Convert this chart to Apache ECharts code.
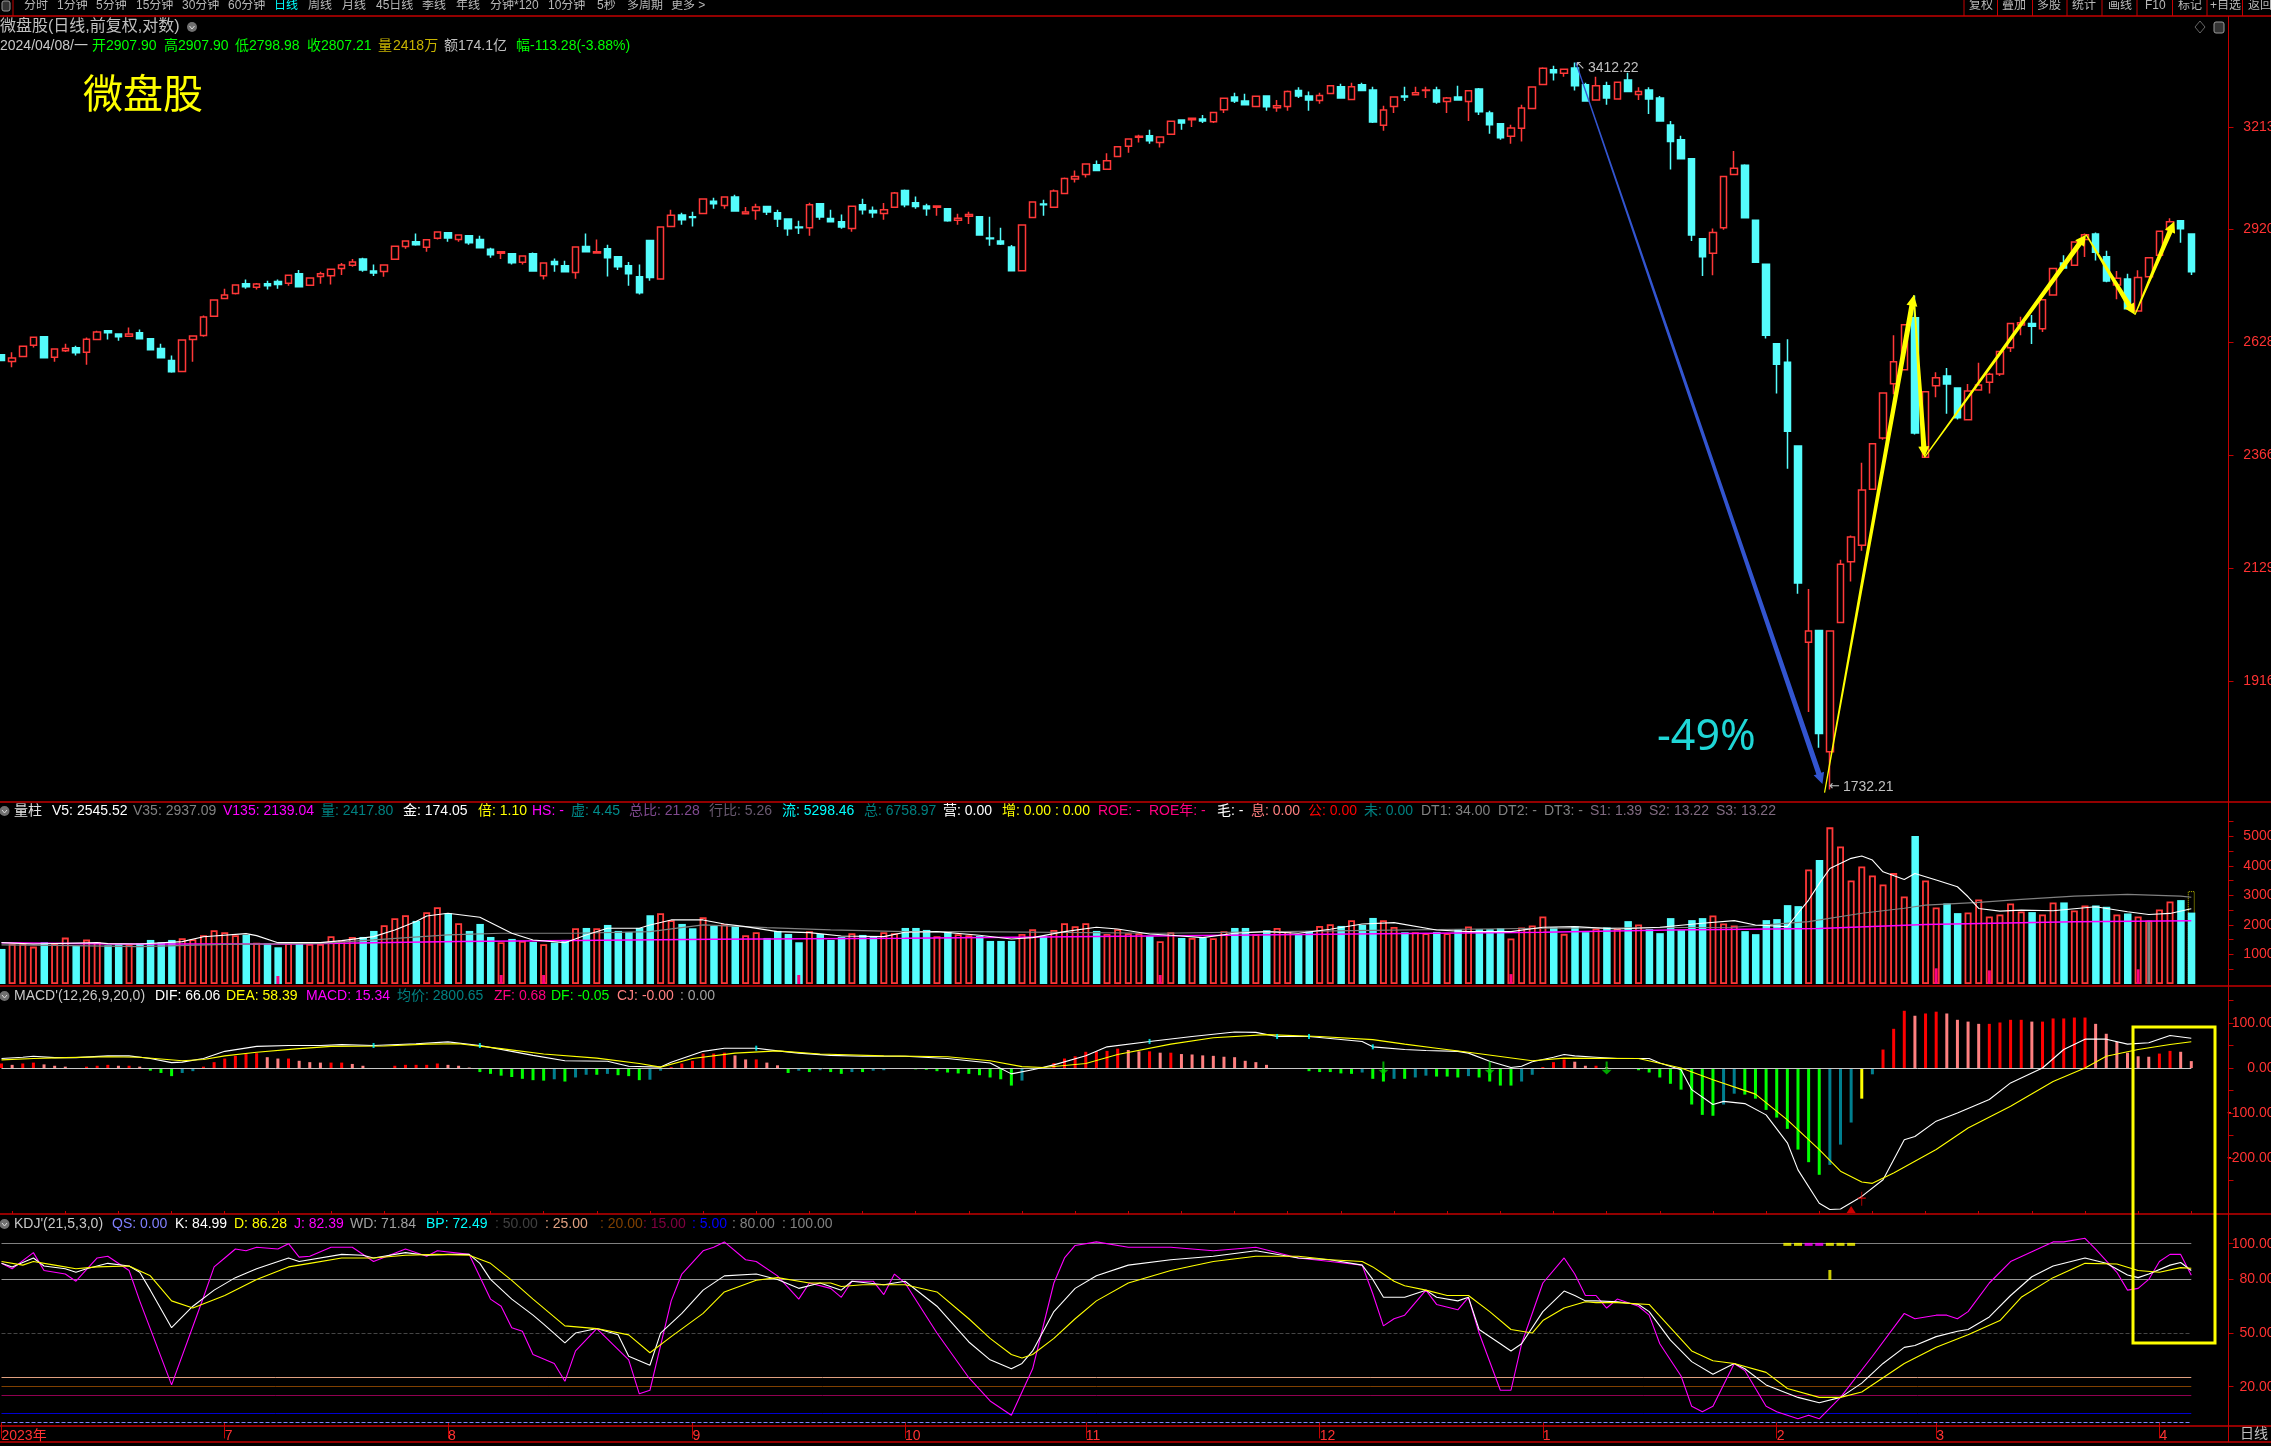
<!DOCTYPE html>
<html>
<head>
<meta charset="utf-8">
<title>微盘股 日线</title>
<script src="https://cdn.jsdelivr.net/npm/echarts@6/dist/echarts.min.js"></script>
<style>
    html, body { margin: 0; padding: 0; background: #000; overflow: hidden; }
    #chart { width: 2271px; height: 1446px; }
</style>
</head>
<body>
<div id="chart"></div>
<script>
// daily candles, 2023-06-01 .. 2024-04-08
const opens = [
2598,2582,2594,2621,2642,2592,2608,2615,2604,2635,
2657,2649,2643,2652,2637,2613,2584,2558,2635,2645,
2693,2738,2751,2776,2767,2776,2782,2777,2802,2772,
2795,2797,2816,2824,2841,2809,2808,2840,2874,2887,
2872,2896,2911,2893,2903,2893,2867,2856,2855,2832,
2855,2797,2834,2823,2805,2874,2857,2868,2847,2823,
2794,2890,2788,2928,2960,2955,2964,2998,2986,3010,
2963,2972,2983,2966,2949,2927,2925,2991,2950,2941,
2923,2988,2972,2964,2981,3028,2994,2985,2981,2977,
2945,2956,2955,2897,2889,2873,2810,2953,2990,2981,
3020,3061,3074,3102,3089,3126,3156,3182,3187,3167,
3191,3234,3235,3237,3229,3265,3304,3292,3275,3307,
3271,3275,3324,3307,3293,3315,3336,3296,3342,3326,
3218,3275,3307,3311,3324,3326,3290,3304,3290,3329,
3255,3223,3185,3209,3269,3343,3389,3378,3395,3342,
3295,3339,3298,3357,3312,3326,3301,3219,3175,3119,
2895,2856,2925,3074,3100,2945,2827,2625,2580,2386,
1987,2009,1794,2024,2142,2175,2292,2404,2529,2562,
2689,2361,2524,2547,2519,2445,2514,2532,2552,2615,
2671,2675,2662,2747,2830,2824,2893,2908,2847,2773,
2788,2706,2794,2851,2919,2944,2907.90];
const closes = [
2584,2590,2619,2641,2591,2612,2613,2603,2636,2654,
2652,2642,2649,2637,2610,2591,2557,2634,2644,2691,
2734,2747,2773,2768,2775,2771,2774,2798,2768,2791,
2802,2814,2825,2833,2812,2804,2825,2875,2889,2879,
2892,2913,2897,2905,2884,2871,2852,2860,2831,2849,
2809,2830,2826,2807,2873,2860,2860,2844,2820,2802,
2753,2792,2927,2959,2947,2953,3004,2991,3010,2971,
2968,2982,2968,2949,2922,2925,2988,2954,2941,2927,
2984,2974,2966,2974,3021,2988,2983,2977,2985,2944,
2951,2961,2905,2895,2881,2810,2932,2996,2988,3027,
3062,3068,3104,3085,3113,3154,3177,3185,3172,3183,
3230,3225,3239,3231,3257,3300,3292,3280,3306,3274,
3277,3321,3307,3295,3309,3339,3301,3336,3324,3228,
3264,3304,3304,3317,3326,3289,3301,3295,3323,3259,
3220,3181,3210,3270,3335,3394,3380,3391,3339,3292,
3339,3301,3350,3321,3321,3298,3231,3170,3119,2905,
2847,2912,3068,3092,2952,2832,2646,2575,2419,2100,
2008,1825,2008,2137,2192,2290,2391,2507,2581,2672,
2415,2510,2543,2528,2450,2512,2526,2551,2606,2675,
2677,2668,2735,2816,2817,2886,2906,2859,2783,2790,
2712,2792,2844,2915,2941,2922,2807.21];
const lows = [
2584,2568,2594,2616,2589,2581,2605,2596,2574,2635,
2635,2632,2643,2635,2610,2591,2555,2558,2581,2642,
2693,2738,2748,2763,2761,2761,2763,2771,2766,2772,
2776,2774,2799,2820,2807,2796,2794,2840,2868,2876,
2860,2893,2887,2887,2879,2871,2844,2841,2826,2826,
2809,2787,2807,2807,2789,2860,2857,2795,2812,2771,
2748,2784,2788,2928,2933,2928,2964,2977,2977,2971,
2963,2947,2960,2927,2903,2908,2903,2947,2941,2922,
2914,2961,2952,2947,2981,2981,2977,2958,2958,2941,
2933,2935,2903,2876,2878,2808,2810,2953,2958,2981,
3020,3051,3065,3085,3089,3126,3137,3167,3163,3152,
3191,3205,3213,3225,3225,3255,3286,3280,3273,3262,
3259,3262,3301,3262,3283,3315,3301,3296,3324,3225,
3202,3255,3292,3311,3301,3283,3255,3295,3231,3249,
3193,3175,3163,3170,3269,3343,3355,3367,3324,3292,
3295,3280,3298,3321,3295,3252,3231,3088,3119,2889,
2796,2798,2919,3074,2950,2830,2638,2506,2336,2079,
1862,1801,1732.21,2024,2103,2164,2292,2400,2504,2562,
2412,2361,2497,2459,2446,2445,2514,2506,2547,2605,
2646,2624,2654,2747,2817,2824,2846,2837,2780,2736,
2712,2706,2794,2851,2919,2884,2798.98];
const highs = [
2598,2604,2619,2641,2642,2612,2625,2620,2640,2657,
2657,2649,2665,2660,2637,2625,2596,2634,2644,2695,
2734,2763,2773,2787,2778,2784,2787,2798,2812,2791,
2807,2814,2830,2841,2844,2826,2827,2875,2889,2909,
2894,2913,2911,2905,2903,2903,2871,2860,2855,2849,
2858,2830,2842,2836,2873,2909,2893,2879,2849,2833,
2826,2890,2927,2974,2966,2969,3004,3008,3010,3016,
2982,2991,2983,2974,2949,2944,2994,2991,2974,2961,
2984,3005,2983,2993,3024,3031,3011,2991,2985,2977,
2963,2969,2955,2955,2925,2878,2932,2996,3002,3031,
3065,3085,3104,3114,3135,3154,3177,3190,3205,3183,
3230,3234,3239,3249,3257,3300,3317,3314,3306,3307,
3295,3324,3334,3321,3317,3339,3345,3348,3348,3336,
3277,3304,3336,3336,3336,3336,3304,3339,3323,3332,
3262,3223,3220,3280,3335,3397,3402,3391,3412.22,3348,
3367,3351,3350,3380,3334,3334,3307,3231,3187,3119,
2895,2923,3068,3142,3103,2945,2827,2625,2636,2386,
2088,2009,2008,2146,2195,2349,2391,2507,2646,2672,
2746,2510,2556,2566,2519,2528,2579,2555,2606,2675,
2692,2696,2735,2816,2851,2886,2909,2912,2863,2809,
2802,2811,2844,2915,2951,2944,2907.90];

const volumes = [
1187,1367,1367,1266,1413,1356,1571,1288,1503,1424,
1311,1345,1333,1379,1492,1413,1492,1548,1514,1650,
1819,1752,1650,1661,1401,1379,1243,1379,1379,1356,
1356,1616,1480,1593,1593,1797,1989,2226,2328,2136,
2430,2599,2396,2057,1797,2034,1593,1413,1526,1458,
1424,1345,1401,1492,1887,1898,1887,2000,1797,1763,
1898,2328,2396,2158,2034,1887,2260,1966,2023,1966,
1650,1752,1559,1797,1695,1413,1785,1695,1492,1593,
1718,1661,1593,1752,1718,1898,1898,1831,1616,1774,
1684,1650,1627,1458,1458,1458,1695,1853,1627,1831,
2057,1955,2057,1797,1695,1853,1718,1718,1627,1446,
1752,1559,1559,1571,1548,1785,1898,1898,1684,1819,
1898,1797,1661,1797,1966,2023,1966,2158,2000,2237,
2158,1932,1752,1752,1718,1763,1718,1858,1948,1858,
1858,1892,1541,1914,1982,2287,1914,1699,1948,1756,
1880,1925,1880,2129,2016,1858,1722,2231,1824,2163,
2231,2321,2051,1982,1790,1688,2163,2197,2671,2637,
3880,4197,5304,4660,3507,3982,3677,3372,3756,2965,
5011,3507,2592,2728,2400,2423,2863,2287,2355,2728,
2457,2434,2355,2762,2762,2491,2660,2660,2615,2355,
2389,2287,2152,2525,2796,2841,2417.8];
// small pink columns at the foot of some volume bars
const volMarkIdx = [26,47,51,75,109,142,182,187,201];
const volMarkVal = [271,305,305,305,305,335,531,461,497];
const volGrayIdx = 202, volGrayVal = 2152;
const volForecast = 3145;

const v5Pts = [[0,1400],[3,1356],[9,1400],[10,1367],[13,1356],[17,1435],[19,1600],[23,1706],[24,1638],[26,1400],[30,1400],[32,1469],[35,1604],[37,1830],[39,2113],[40,2305],[42,2395],[45,2260],[48,1718],[50,1491],[53,1400],[55,1660],[57,1887],[60,1887],[61,2000],[63,2170],[66,2170],[68,2034],[70,1944],[73,1774],[76,1740],[79,1627],[83,1605],[85,1750],[88,1774],[92,1650],[95,1525],[97,1570],[100,1774],[103,1921],[105,1865],[108,1695],[110,1650],[113,1570],[116,1718],[119,1774],[122,1718],[125,1853],[128,2034],[131,2079],[135,1830],[138,1774],[142,1774],[145,1921],[148,1944],[152,1865],[156,1921],[160,2057],[163,2147],[165,2000],[168,1944],[169,2396],[170,2842],[171,3400],[172,3910],[174,4255],[175,4332],[176,4197],[177,3800],[179,3541],[180,3745],[182,3519],[184,3293],[185,2954],[186,2558],[188,2468],[190,2502],[193,2479],[197,2615],[200,2445],[202,2355],[204,2390],[206,2545.52]];
const v35Pts = [[0,1322],[5,1310],[13,1266],[21,1345],[30,1379],[35,1492],[42,1661],[47,1718],[54,1718],[61,1774],[66,2000],[72,1910],[78,1830],[85,1774],[91,1774],[109,1718],[127,1808],[145,1887],[163,1921],[170,2113],[175,2396],[179,2565],[181,2671],[186,2762],[190,2864],[195,2977],[200,3034],[205,2977],[206,2937.09]];
const v135Pts = [[0,1400],[11,1356],[27,1356],[43,1435],[54,1469],[67,1514],[85,1548],[108,1627],[127,1695],[145,1751],[157,1830],[171,1881],[181,2017],[195,2107],[206,2139.04]];

const macdBars = [
10,7,10,12,8,5,3,0,3,5,
7,5,5,3,-6,-11,-18,-11,-7,3,
13,21,27,31,33,24,21,21,16,13,
12,12,12,9,5,0,0,5,7,7,
7,10,7,5,1,-9,-13,-17,-20,-24,
-27,-28,-25,-30,-21,-15,-15,-13,-16,-18,
-27,-26,-6,2,10,16,32,32,34,28,
19,19,12,6,-11,-6,-9,-5,-9,-13,
-9,-9,-6,-5,0,0,-3,-4,-7,-10,
-12,-13,-16,-21,-25,-39,-28,-4,0,11,
21,26,36,37,38,43,40,37,37,34,
34,31,30,28,27,25,24,16,13,7,
0,0,-2,-7,-9,-9,-12,-13,-10,-24,
-30,-24,-24,-21,-17,-19,-19,-21,-18,-21,
-30,-39,-39,-30,-15,2,13,19,14,5,
5,2,0,-2,-5,-10,-21,-35,-48,-81,
-104,-106,-81,-57,-59,-68,-93,-110,-135,-181,
-209,-237,-215,-170,-121,-68,-14,41,87,127,
116,121,125,121,107,103,98,98,101,107,
107,103,103,110,110,112,112,98,76,58,
34,26,25,32,38,36,15.34];
const difPts = [[0,21],[2,24],[3,26],[5,23],[7,23],[10,27],[12,27],[14,21],[16,12],[17,13],[19,21],[21,37],[24,48],[27,50],[30,50],[32,52],[35,50],[39,54],[42,58],[45,50],[48,37],[50,28],[53,16],[57,15],[59,4],[62,2],[63,13],[66,37],[68,44],[71,44],[73,38],[75,33],[78,28],[81,26],[85,26],[89,21],[93,11],[95,-13],[97,-4],[99,7],[102,27],[104,47],[108,59],[112,70],[116,80],[118,79],[120,70],[123,70],[128,59],[129,47],[132,41],[134,39],[137,37],[138,33],[140,15],[142,1],[143,4],[144,14],[146,24],[147,30],[148,27],[150,24],[152,21],[155,21],[156,11],[158,-4],[159,-48],[161,-81],[162,-74],[164,-79],[166,-104],[168,-166],[169,-226],[171,-300],[172,-314],[173,-313],[175,-285],[177,-248],[179,-159],[180,-152],[182,-118],[184,-100],[187,-70],[189,-33],[192,0],[194,41],[196,64],[198,64],[200,53],[202,56],[204,72],[206,66.06]];
const deaPts = [[0,18],[3,21],[6,23],[10,25],[13,24],[17,16],[19,19],[21,27],[24,35],[28,43],[31,48],[36,49],[40,53],[43,54],[47,43],[51,31],[56,22],[60,10],[62,2],[65,21],[69,33],[73,38],[77,31],[83,27],[89,25],[93,16],[96,3],[98,1],[102,10],[105,30],[110,53],[114,67],[119,74],[124,70],[129,63],[132,53],[135,44],[138,35],[144,16],[147,22],[154,21],[158,0],[161,-26],[165,-58],[168,-115],[171,-181],[173,-229],[175,-253],[176,-256],[178,-233],[182,-181],[185,-133],[189,-85],[193,-30],[196,0],[198,26],[201,41],[204,52],[206,58.39]];
const macdDownIdx = [130,140,151];
const macdTickIdx = [35,45,71,108,120,123,129];
const macdTickVal = [50,50,44,59,70,70,47];
const macdUpMark = [174,-314];
const macdCrossMark = [175,-290];

const kPts = [[0,89],[1,87],[3,92],[4,87.5],[6,86],[7,84],[8,86],[10,89],[12,87.5],[13,84],[14,74],[16,53],[18,65],[20,74],[22,81],[24,86],[27,92],[28,90],[32,94],[34,93.5],[35,92],[38,95],[40,93.5],[42,94],[44,94],[45,89],[46,80],[48,69],[50,60],[51,55],[53,44.5],[54,50],[56,52.5],[58,49],[59,37],[61,32],[62,50],[64,61],[66,74],[68,82],[71,83],[73,80],[75,75],[77,78],[79,74],[80,79],[83,77],[85,79],[88,65],[91,45],[93,35],[95,30],[96,33],[97,40],[99,62],[101,75],[103,82],[106,88],[110,91],[114,93],[118,96],[122,92],[125,91],[128,88],[129,80],[130,70],[132,70],[134,74],[135,70],[137,68],[138,70],[139,52],[141,44],[142,40],[143,44],[145,62],[147,73.5],[148,71],[149,68],[150,68],[152,67.5],[154,66],[155,62],[157,46],[159,34],[161,27],[163,33],[164,30],[166,21],[169,14],[171,11],[173,14],[175,22],[177,33],[179,42],[180,43],[182,48],[184,51],[185,52],[187,59],[189,71],[191,81.5],[193,87.5],[196,92],[198,89],[200,82.5],[201,81],[202,83],[204,88],[205,89.5],[206,84.99]];
const dPts = [[0,90],[2,88],[3,90],[5,88],[7,86],[9,87],[12,87.5],[14,82],[16,68],[18,64],[21,71],[24,80],[27,87],[29,89],[32,92],[35,92],[38,93.5],[41,94],[44,93.5],[46,89],[48,79.5],[50,69],[53,54],[56,52.5],[59,49],[61,39],[63,48],[66,61],[68,73],[71,79.5],[73,81],[76,78],[78,78],[79,76],[81,77],[85,77],[88,73],[91,58],[93,47],[95,38],[96,36],[97,38],[99,47],[101,58],[103,68],[106,78],[110,85],[114,90],[118,93],[122,93],[125,91],[128,90],[129,87],[130,83],[131,79],[132,76.5],[134,74],[136,71],[138,71],[140,62],[142,52],[144,50],[145,57],[147,64],[149,67.5],[150,67],[152,67],[155,66],[157,53],[159,40],[161,34.5],[163,33],[166,28],[168,19],[171,14],[173,14],[175,17],[177,25],[179,33],[182,42],[185,49],[188,57],[190,70],[193,81],[196,89],[199,88.6],[201,85],[203,84],[205,86.6],[206,86.28]];
const jPts = [[0,89],[1,86],[3,95],[4,85],[6,83],[7,79],[9,92],[10,93],[12,85],[13,68],[16,21],[19,70],[20,87],[21,92],[22,97],[23,96],[24,98],[26,97],[27,100],[28,92.5],[29,93],[31,98],[33,98],[35,90],[38,97],[40,93],[41,96],[44,94],[46,69],[47,65],[48,53],[49,51],[50,38],[52,33],[53,23],[54,40],[56,52.5],[59,35],[60,16],[61,18],[63,68],[64,83],[66,96],[67,98],[68,101],[70,91],[71,90],[73,82],[75,69],[76,78],[78,75],[79,70],[80,79],[82,79],[83,71.5],[84,83],[85,78],[88,50],[91,25],[93,12],[95,4],[97,30],[99,78],[100,92],[101,99],[103,101],[106,98],[110,98],[114,96],[118,98],[122,92],[125,90],[128,88],[129,72],[130,54],[131,58],[132,60],[134,74],[135,66],[137,63],[138,70],[139,50],[141,18],[142,18],[143,44],[145,78],[147,92],[148,83],[149,71],[150,71],[151,64],[152,69],[154,65],[155,60],[156,44],[158,26],[159,9],[160,6],[161,9],[163,33],[164,29],[166,9],[167,6],[169,2],[170,4],[171,2],[173,14],[176,37],[179,61],[180,58],[182,60],[183,60],[184,58],[185,62],[187,78],[189,90],[191,95.5],[193,101],[194,101],[196,103],[197,97],[199,84],[200,74],[201,75],[202,80],[203,90],[204,94],[205,94],[206,82.39]];
const kdjLevels = [100,80,50,25,20,15,5,0];
const flagIdx = [168,169,170,171,172,173,174];
const flagVal = 99.6;
const kdjSignal = [172,82.5];

// axis ticks and labels
const priceTicks = [3213,2920,2628,2366,2129,1916];
const volTicks = [5000,4000,3000,2000,1000];
const volMinor = [5500,5000,4500,4000,3500,3000,2500,2000,1500,1000,500];
const macdTicks = [100,0,-100,-200];
const macdMinor = [150,100,50,0,-50,-100,-150,-200,-250];
const kdjTicks = [100,80,50,20];
const monthLabels = {0:'2023年',21:'7',42:'8',65:'9',85:'10',102:'11',124:'12',145:'1',167:'2',182:'3',203:'4'};
const categories = Array.from({length:210},(_,i)=>i);

// drawn trend arrows, from candle/price to candle/price
const arrowFrom = [[148.1,3412],[171.5,1727],[179.9,2747],[180.9,2361],[196.1,2906],[200.7,2697]];
const arrowTo = [[171.3,1741],[179.9,2747],[180.9,2361],[196.1,2906],[200.7,2697],[204.4,2942]];
const arrowColor = ['#3355d0','#ffff00','#ffff00','#ffff00','#ffff00','#ffff00'];

const UP = '#ff3232', DOWN = '#54fcfc', FRAME = '#c40000', AXIS = '#ff3232';
const FONT = '"Liberation Sans","Noto Sans CJK SC",sans-serif';

const candles = opens.map((o,i)=>[o,closes[i],lows[i],highs[i]]);
const volUp = volumes.map((v,i)=>closes[i]>=opens[i]?v:'-');
const volDown = volumes.map((v,i)=>closes[i]>=opens[i]?'-':v);

function hideX(gridIndex, extra){
    return Object.assign({type:'category',gridIndex,data:categories,boundaryGap:true,
        axisLine:{show:false},axisTick:{show:false},axisLabel:{show:false},splitLine:{show:false}},extra||{});
}
function rightY(gridIndex, min, max, labels, ticks, fmt, type){
    return {type:type||'value',gridIndex,position:'right',min,max,scale:true,
        axisLine:{show:true,onZero:false,lineStyle:{color:FRAME,width:1}},
        axisTick:{show:true,length:5,lineStyle:{color:FRAME},customValues:ticks},
        axisLabel:{show:true,color:AXIS,fontSize:14,fontFamily:FONT,align:'right',margin:46,customValues:labels,formatter:fmt},
        splitLine:{show:false},minorTick:{show:false},minorSplitLine:{show:false}};
}
function line(name, data, color, xi, yi, width){
    return {name,type:'line',data,xAxisIndex:xi,yAxisIndex:yi,showSymbol:false,symbol:'none',
        lineStyle:{color,width:width||1.1},silent:true,z:5};
}
function macdColor(p){
    const i=p.dataIndex, v=macdBars[i], prev=i?macdBars[i-1]:0;
    if(i===175) return '#ffff00';
    if(v>=0) return v>=prev?'#ff0000':'#ff8080';
    return v<=prev?'#00ff00':'#007f8f';
}
function renderArrow(params, api){
    const a=api.coord([api.value(0),api.value(1)]), b=api.coord([api.value(2),api.value(3)]);
    const dx=b[0]-a[0], dy=b[1]-a[1], len=Math.hypot(dx,dy), ux=dx/len, uy=dy/len, nx=-uy, ny=ux;
    const head=11, half=5.5, w0=0.6, w1=2.6;
    const nk=[b[0]-ux*head,b[1]-uy*head];
    return {type:'polygon',shape:{points:[
        [a[0]+nx*w0,a[1]+ny*w0],[nk[0]+nx*w1,nk[1]+ny*w1],[nk[0]+nx*half,nk[1]+ny*half],b,
        [nk[0]-nx*half,nk[1]-ny*half],[nk[0]-nx*w1,nk[1]-ny*w1],[a[0]-nx*w0,a[1]-ny*w0]]},
        style:{fill:api.visual('color')}};
}

// texts and frame
const gfx = [];
function txt(x,y,text,fill,size,family){
    gfx.push({type:'text',x,y,silent:true,z:20,style:{text,fill,fontSize:size||14,fontFamily:family||FONT,verticalAlign:'middle',textAlign:'left'}});
}
function hline(y,x1,x2,c){ gfx.push({type:'line',silent:true,z:19,shape:{x1,y1:y,x2,y2:y},style:{stroke:c||FRAME,lineWidth:1.5}}); }
function vline(x,y1,y2,c){ gfx.push({type:'line',silent:true,z:19,shape:{x1:x,y1,x2:x,y2},style:{stroke:c||FRAME,lineWidth:1}}); }
function icon(x,y){
    gfx.push({type:'circle',silent:true,z:20,shape:{cx:x,cy:y,r:5},style:{fill:'#707070'}});
    gfx.push({type:'polyline',silent:true,z:21,shape:{points:[[x-2.5,y-1],[x,y+2],[x+2.5,y-1]]},style:{stroke:'#ddd',lineWidth:1,fill:null}});
}
[16,802,986,1214,1426,1442].forEach(y=>hline(y,0,2271));
vline(2228.5,16,1442);
vline(13,0,16);

const leftTabs = [['分时',24],['1分钟',57],['5分钟',96],['15分钟',136],['30分钟',182],['60分钟',228],['日线',274,'#00ffff'],['周线',308],['月线',342],['45日线',376],['季线',422],['年线',456],['分钟*120',490],['10分钟',548],['5秒',597],['多周期',627],['更多 >',671]];
leftTabs.forEach(t=>txt(t[1],6,t[0],t[2]||'#b8b8b8',12));
const rightTabs = [['复权',1969],['叠加',2002],['多股',2037],['统计',2072],['画线',2108],['F10',2145],['标记',2178],['+自选',2210],['返回',2248]];
rightTabs.forEach(t=>txt(t[1],6,t[0],'#b8b8b8',12));
[1964,1997.5,2032.5,2067,2102,2137,2172.5,2207,2242.5].forEach(x=>vline(x,0,16));
gfx.push({type:'rect',silent:true,z:20,shape:{x:2,y:1,width:8,height:10,r:2},style:{stroke:'#999',fill:'#333',lineWidth:1}});

txt(0,27,'微盘股(日线,前复权,对数)','#c0c0c0',16);
icon(192,27);
gfx.push({type:'polygon',silent:true,z:20,shape:{points:[[2200,21],[2205,27],[2200,33],[2195,27]]},style:{stroke:'#666',fill:null,lineWidth:1}});
gfx.push({type:'rect',silent:true,z:20,shape:{x:2214,y:22,width:10,height:11,r:2},style:{stroke:'#999',fill:'#333',lineWidth:1}});

[[0,'2024/04/08/一','#c8c8c8'],[92,'开2907.90','#00ff00'],[164,'高2907.90','#00ff00'],[235,'低2798.98','#00ff00'],[307,'收2807.21','#00ff00'],[378,'量','#c8b400'],[393,'2418万','#c8b400'],[444,'额174.1亿','#c0c0c0'],[516,'幅-113.28(-3.88%)','#00ff00']]
    .forEach(s=>txt(s[0],46,s[1],s[2]));
txt(83,97,'微盘股','#ffff00',40);
txt(1657,738,'-49%','#1fd6d6',43,'"Noto Sans",sans-serif');
const noteFont = '"DejaVu Sans","Liberation Sans",sans-serif';
txt(1575,66,'↖','#c0c0c0',12,noteFont);
txt(1588,68,'3412.22','#c0c0c0',14);
txt(1829,787,'←','#c0c0c0',13,noteFont);
txt(1843,787,'1732.21','#c0c0c0',14);

icon(4.5,811);
[[14,'量柱','#e0e0e0'],[52,'V5: 2545.52','#ffffff'],[133,'V35: 2937.09','#808080'],[223,'V135: 2139.04','#ff00ff'],[321,'量: 2417.80','#008080'],[403,'金: 174.05','#ffffff'],[478,'倍: 1.10','#ffff00'],[532,'HS: -','#ff00ff'],[571,'虚: 4.45','#008b8b'],[629,'总比: 21.28','#804a90'],[709,'行比: 5.26','#6a5a70'],[782,'流: 5298.46','#00ffff'],[864,'总: 6758.97','#008080'],[943,'营: 0.00','#ffffff'],[1002,'增: 0.00 : 0.00','#ffff00'],[1098,'ROE: -','#ff0080'],[1149,'ROE年: -','#ff0080'],[1217,'毛: -','#ffffff'],[1251,'息: 0.00','#ff8080'],[1308,'公: 0.00','#ff0000'],[1364,'未: 0.00','#008080'],[1421,'DT1: 34.00','#808080'],[1498,'DT2: -','#808080'],[1544,'DT3: -','#808080'],[1590,'S1: 1.39','#806a80'],[1649,'S2: 13.22','#806a80'],[1716,'S3: 13.22','#806a80']]
    .forEach(s=>txt(s[0],811.5,s[1],s[2]));
icon(4.5,996);
[[14,"MACD'(12,26,9,20,0)",'#c8c8c8'],[155,'DIF: 66.06','#ffffff'],[226,'DEA: 58.39','#ffff00'],[306,'MACD: 15.34','#ff00ff'],[397,'均价: 2800.65','#008080'],[494,'ZF: 0.68','#ff0080'],[551,'DF: -0.05','#00ff00'],[617,'CJ: -0.00','#ff8080'],[680,': 0.00','#a0a0a0']]
    .forEach(s=>txt(s[0],996,s[1],s[2]));
icon(4.5,1224);
[[14,"KDJ'(21,5,3,0)",'#c8c8c8'],[112,'QS: 0.00','#8080ff'],[175,'K: 84.99','#ffffff'],[234,'D: 86.28','#ffff00'],[294,'J: 82.39','#ff00ff'],[350,'WD: 71.84','#a0a0a0'],[426,'BP: 72.49','#00ffff'],[495,': 50.00','#404040'],[545,': 25.00','#e0a080'],[600,': 20.00','#804000'],[643,': 15.00','#800040'],[692,': 5.00','#0000ff'],[732,': 80.00','#808080'],[782,': 100.00','#808080']]
    .forEach(s=>txt(s[0],1224,s[1],s[2]));
txt(2240,1434,'日线','#c0c0c0',14);
// yellow box around the last candles in the lower panels
gfx.push({type:'rect',silent:true,z:22,shape:{x:2133,y:1027,width:82,height:316},style:{stroke:'#ffff00',lineWidth:3,fill:null}});

const gridBox = {left:-3.8,width:2232.3,outerBoundsMode:'none'};
const option = {
    backgroundColor:'#000',
    animation:false,
    tooltip:{show:false},
    grid:[
        Object.assign({top:17,height:785},gridBox),
        Object.assign({top:802,height:182},gridBox),
        Object.assign({top:986,height:228},gridBox),
        Object.assign({top:1214,height:212},gridBox)
    ],
    xAxis:[
        hideX(0),
        {type:'value',gridIndex:0,min:-0.5,max:209.5,show:false},
        hideX(1),
        hideX(1),
        hideX(2),
        hideX(3,{
            axisLine:{show:false},
            axisTick:{show:true,alignWithLabel:true,length:16,lineStyle:{color:FRAME},interval:i=>i in monthLabels},
            axisLabel:{show:true,color:AXIS,fontSize:14,fontFamily:FONT,align:'left',margin:3,interval:i=>i in monthLabels,formatter:(v,i)=>monthLabels[v]||''}
        }),
        hideX(3,{axisTick:{show:true,alignWithLabel:true,length:3,lineStyle:{color:FRAME},interval:i=>i%5===1&&i<207}})
    ],
    yAxis:[
        rightY(0,1712,3560,priceTicks,priceTicks,v=>String(Math.round(v)),'log'),
        rightY(1,0,6163,volTicks,volMinor,v=>String(v)),
        rightY(2,-324,182,macdTicks,macdMinor,v=>v.toFixed(2)),
        rightY(3,-2,116.6,kdjTicks,kdjTicks,v=>v.toFixed(2))
    ],
    series:[
        {type:'candlestick',data:candles,xAxisIndex:0,yAxisIndex:0,barWidth:7,silent:true,z:3,
            itemStyle:{color:'#000',color0:DOWN,borderColor:'#ff3838',borderColor0:DOWN,borderWidth:1.5}},
        {type:'custom',renderItem:renderArrow,xAxisIndex:1,yAxisIndex:0,silent:true,z:6,clip:false,encode:{x:[0,2],y:[1,3]},
            data:arrowFrom.map((a,i)=>({value:[a[0],a[1],arrowTo[i][0],arrowTo[i][1]],itemStyle:{color:arrowColor[i]}}))},

        {type:'bar',data:volUp,xAxisIndex:2,yAxisIndex:1,barWidth:7,barGap:'-100%',silent:true,z:2,
            itemStyle:{color:'#000',borderColor:'#ff3838',borderWidth:1.8}},
        {type:'bar',data:volDown,xAxisIndex:2,yAxisIndex:1,barWidth:7.5,barGap:'-100%',silent:true,z:2,
            itemStyle:{color:DOWN}},
        {type:'bar',data:categories.map(i=>i===206?volForecast:'-'),xAxisIndex:2,yAxisIndex:1,barWidth:7,barGap:'-100%',silent:true,z:1,
            itemStyle:{color:'rgba(0,0,0,0)',borderColor:'#c8c800',borderWidth:1,borderType:'dotted'}},
        {type:'bar',data:categories.map(i=>{const k=volMarkIdx.indexOf(i);return k<0?'-':volMarkVal[k];}),xAxisIndex:3,yAxisIndex:1,barWidth:3,barGap:'-100%',silent:true,z:3,
            itemStyle:{color:'#ff0080'}},
        {type:'bar',data:categories.map(i=>i===volGrayIdx?volGrayVal:'-'),xAxisIndex:3,yAxisIndex:1,barWidth:3,barGap:'-100%',silent:true,z:3,
            itemStyle:{color:'#808080'}},
        line('V135',v135Pts,'#ff00ff',2,1,1.5),
        line('V35',v35Pts,'#808080',2,1,1.2),
        line('V5',v5Pts,'#ffffff',2,1),

        {type:'bar',data:macdBars,xAxisIndex:4,yAxisIndex:2,barWidth:3,silent:true,z:2,itemStyle:{color:macdColor},
            markLine:{silent:true,symbol:'none',label:{show:false},lineStyle:{color:'#c8c8c8',width:1,type:'solid'},
                data:[[{coord:[0,0]},{coord:[206,0]}]]}},
        line('DIF',difPts,'#ffffff',4,2),
        line('DEA',deaPts,'#ffff00',4,2),
        {type:'scatter',data:macdDownIdx.map(i=>[i,0]),xAxisIndex:4,yAxisIndex:2,silent:true,z:6,
            symbol:'path://M4 0L6 0L6 18L10 18L5 28L0 18L4 18Z',symbolSize:[10,13],itemStyle:{color:'#00d000'}},
        {type:'scatter',data:macdTickIdx.map((i,k)=>[i,macdTickVal[k]]),xAxisIndex:4,yAxisIndex:2,silent:true,z:6,
            symbol:'rect',symbolSize:[2,5],itemStyle:{color:'#00ffff'}},
        {type:'scatter',data:[macdUpMark],xAxisIndex:4,yAxisIndex:2,silent:true,z:6,
            symbol:'triangle',symbolSize:[9,7],itemStyle:{color:'#ff0000'}},
        {type:'scatter',data:[macdCrossMark],xAxisIndex:4,yAxisIndex:2,silent:true,z:6,
            symbol:'path://M4.5 0H5.5V5H10V6H5.5V12H4.5V6H0V5H4.5Z',symbolSize:[8,14],itemStyle:{color:'#ff0000'}},

        {type:'line',data:[],xAxisIndex:5,yAxisIndex:3,showSymbol:false,silent:true,
            markLine:{silent:true,symbol:'none',label:{show:false},
                data:[['#808080','solid',1.2],['#999999','solid',1.2],['#454545','dashed',1],['#e0a080','solid',1],['#804000','solid',1],['#900050','solid',1],['#0000d0','solid',1],['#8080ff','dashed',1]]
                    .map((s,k)=>[{coord:[0,kdjLevels[k]],lineStyle:{color:s[0],type:s[1],width:s[2]}},{coord:[206,kdjLevels[k]]}])}},
        line('J',jPts,'#ff00ff',5,3),
        line('K',kPts,'#ffffff',5,3),
        line('D',dPts,'#ffff00',5,3),
        {type:'scatter',data:flagIdx.map(i=>[i,flagVal]),xAxisIndex:5,yAxisIndex:3,silent:true,z:6,
            symbol:'rect',symbolSize:[8,3],itemStyle:{color:p=>(p.dataIndex===2||p.dataIndex===3)?'#ff00ff':'#ffff00'}},
        {type:'scatter',data:[kdjSignal],xAxisIndex:5,yAxisIndex:3,silent:true,z:6,
            symbol:'rect',symbolSize:[3,10],itemStyle:{color:'#ffff00'}},
        {type:'line',data:[],xAxisIndex:6,yAxisIndex:3,silent:true,showSymbol:false}
    ],
    graphic:gfx
};

const myChart = echarts.init(document.getElementById('chart'));
myChart.setOption(option);
</script>
</body>
</html>
